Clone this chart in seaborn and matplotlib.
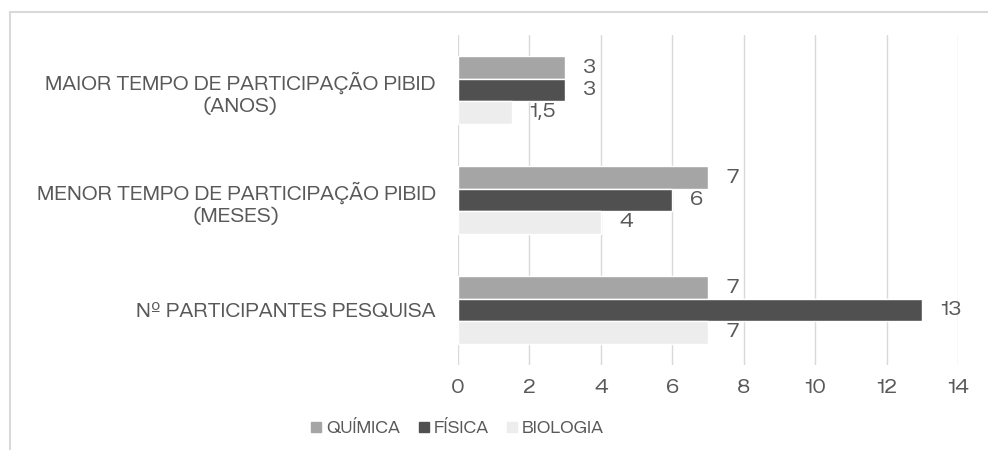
import matplotlib
matplotlib.use("Agg")
import matplotlib.pyplot as plt
import seaborn as sns
import pandas as pd
from matplotlib.lines import Line2D

categories = [
    "MAIOR TEMPO DE PARTICIPAÇÃO PIBID\n(ANOS)",
    "MENOR TEMPO DE PARTICIPAÇÃO PIBID\n(MESES)",
    "Nº PARTICIPANTES PESQUISA",
]
series = ["QUÍMICA", "FÍSICA", "BIOLOGIA"]
quimica = [3, 7, 7]
fisica = [3, 6, 13]
biologia = [1.5, 4, 7]
x_ticks = [0, 2, 4, 6, 8, 10, 12, 14]

colors = {"QUÍMICA": "#a5a5a5", "FÍSICA": "#505050", "BIOLOGIA": "#ededed"}
text_color = "#595959"
fs = 13.5

rows = []
for s, vals in zip(series, [quimica, fisica, biologia]):
    for c, v in zip(categories, vals):
        rows.append({"categoria": c, "serie": s, "valor": v})
df = pd.DataFrame(rows)

sns.set_style("white")
plt.rcParams["font.family"] = ["Zalando Sans SemiExpanded", "DejaVu Sans"]
plt.rcParams["font.weight"] = "light"

fig = plt.figure(figsize=(9.88, 4.5), dpi=100)
ax = fig.add_axes([458 / 988, 1 - 365 / 450, 500 / 988, 330 / 450])

sns.barplot(data=df, y="categoria", x="valor", hue="serie", order=categories,
            hue_order=series, palette=colors, orient="h", width=0.61,
            saturation=1, ax=ax, legend=False, errorbar=None, zorder=3)

for cont, s in zip(ax.containers, series):
    labels = [("%g" % b.get_width()).replace(".", ",") for b in cont]
    ax.bar_label(cont, labels=labels, padding=13, fontsize=fs, color=text_color)

ax.set_xlim(0, 14)
ax.set_xticks(x_ticks)
ax.set_xticklabels([str(t) for t in x_ticks])
ax.set_xlabel("")
ax.set_ylabel("")
ax.grid(axis="x", color="#d9d9d9", linewidth=1, zorder=0)
ax.grid(axis="y", visible=False)
for sp in ax.spines.values():
    sp.set_visible(False)
ax.tick_params(axis="both", length=0, colors=text_color, labelsize=fs)
ax.tick_params(axis="x", pad=10)
ax.tick_params(axis="y", pad=16)
for lab in ax.get_yticklabels():
    lab.set_multialignment("center")

handles = [Line2D([0], [0], marker="s", linestyle="", markersize=7,
                  markerfacecolor=colors[s], markeredgecolor=colors[s]) for s in series]
fig.legend(handles, series, loc="center", bbox_to_anchor=(457 / 988, 1 - 428 / 450),
           ncol=3, frameon=False, fontsize=11.5, labelcolor=text_color,
           handletextpad=0.2, columnspacing=1.1, handlelength=0.8)

# outer frame (top and left borders)
fig.add_artist(Line2D([10 / 988, 1], [1 - 12 / 450, 1 - 12 / 450], color="#d9d9d9",
                      linewidth=1.5, transform=fig.transFigure))
fig.add_artist(Line2D([10 / 988, 10 / 988], [0, 1 - 12 / 450], color="#d9d9d9",
                      linewidth=1.5, transform=fig.transFigure))

fig.savefig("out.png", dpi=100, facecolor="white")
